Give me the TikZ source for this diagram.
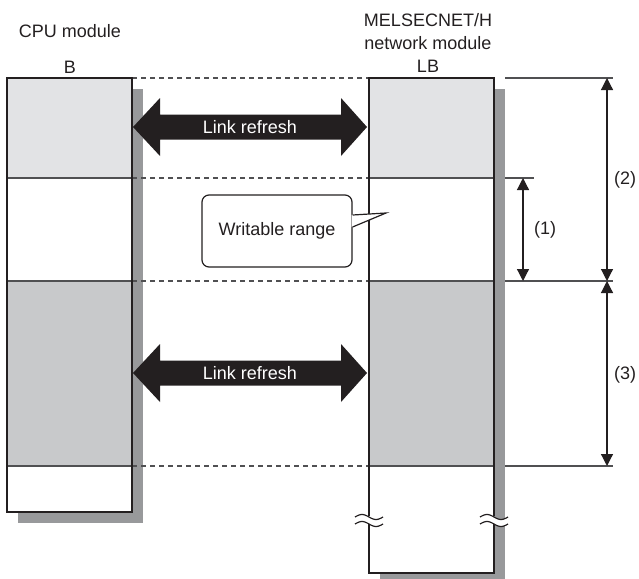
\documentclass[tikz,border=0pt]{standalone}
\usepackage{fontspec}
\setmainfont{Liberation Sans}
\usepackage{xcolor}
\usepackage{tikz}
\usetikzlibrary{arrows.meta}

\definecolor{memlight}{HTML}{E2E3E5}
\definecolor{memmid}{HTML}{C8C9CB}
\definecolor{memshadow}{HTML}{98999B}
\definecolor{memline}{HTML}{231F20}
\definecolor{guidegray}{HTML}{505052}

\begin{document}
\begin{tikzpicture}[x=1pt, y=-1pt,
	lbl/.style={inner sep=0pt, font=\fontsize{18}{23}\selectfont, text=memline},
	memframe/.style={draw=memline, line width=2.6pt},
	divider/.style={draw=guidegray, line width=1.4pt},
	guide/.style={draw=guidegray, line width=1.2pt, dash pattern=on 5pt off 4pt},
	extline/.style={draw=guidegray, line width=1.2pt},
	breakline/.style={draw=memline, line width=1.2pt},
	dimarrow/.style={draw=memline, line width=1.2pt, {Triangle[length=12pt,width=12pt]}-{Triangle[length=12pt,width=12pt]}},
	callbox/.style={lbl, draw=memline, line width=1.2pt, fill=white, rounded corners=7pt, minimum width=150pt, minimum height=72pt}
]

\useasboundingbox (0,0) rectangle (639,578);

% shadows
\fill[memshadow] (18,89) rectangle (143,523);
\fill[memshadow] (380,89) rectangle (505,585);

% memory areas
\foreach \x in {7,369}{
	\fill[white] (\x,78) rectangle (\x+125,512);
	\fill[memlight] (\x,78) rectangle (\x+125,178);
	\fill[memmid] (\x,281) rectangle (\x+125,466);
}
\fill[white] (369,512) rectangle (494,573);

\foreach \x in {7,369}{
	\foreach \y in {178,281,466}{
		\draw[divider] (\x,\y) -- (\x+125,\y);
	}
}

\foreach \y in {78,178,281,466}{
	\draw[guide] (132,\y) -- (369,\y);
}

% frames
\draw[memframe] (7,78) rectangle (132,512);
\draw[memframe] (369,516) -- (369,78) -- (494,78) -- (494,516);
\draw[memframe] (369,524) -- (369,573) -- (494,573) -- (494,524);

% break marks
\foreach \bx in {369,494}{
	\fill[white] plot[domain=-14:14, samples=25] ({\bx+\x}, {517+2.5*sin(\x/14*180)})
		-- plot[domain=14:-14, samples=25] ({\bx+\x}, {524+2.5*sin(\x/14*180)}) -- cycle;
	\draw[breakline] plot[domain=-14:14, samples=25] ({\bx+\x}, {517+2.5*sin(\x/14*180)});
	\draw[breakline] plot[domain=-14:14, samples=25] ({\bx+\x}, {524+2.5*sin(\x/14*180)});
}

% link refresh
\foreach \c/\n in {127/lra,373/lrb}{
	\fill[memline] (133,\c) -- (160,\c-29) -- (160,\c-12.5) -- (341,\c-12.5) -- (341,\c-29)
		-- (367,\c) -- (341,\c+29) -- (341,\c+12.5) -- (160,\c+12.5) -- (160,\c+29) -- cycle;
	\node[lbl, text=white] (\n) at (250,\c) {Link refresh};
}

% callout
\node[callbox] (wr) at (277,231) {Writable range};
\coordinate (wrtip) at (386,213);
\fill[white] ([xshift=-1pt,yshift=16pt]wr.east) -- (wrtip) -- ([xshift=-1pt,yshift=4pt]wr.east) -- cycle;
\draw[breakline] ([yshift=16pt]wr.east) -- (wrtip) -- ([yshift=4pt]wr.east);

% dimensions
\draw[extline] (505,78) -- (613,78);
\draw[extline] (505,178) -- (534,178);
\draw[extline] (505,281) -- (613,281);
\draw[extline] (505,466) -- (613,466);

\coordinate (d1a) at (523,178);
\coordinate (d1b) at (523,281);
\coordinate (d2a) at (607,78);
\coordinate (d2b) at (607,281);
\coordinate (d3a) at (607,281);
\coordinate (d3b) at (607,466);

\draw[dimarrow] (d1a) -- (d1b);
\draw[dimarrow] (d2a) -- (d2b);
\draw[dimarrow] (d3a) -- (d3b);

\node[lbl] (dim1) at (545,230) {(1)};
\node[lbl] (dim2) at (625,180) {(2)};
\node[lbl] (dim3) at (625,375) {(3)};

% titles
\node[lbl] (cpu) at (70,31) {CPU module};
\node[lbl] (bdev) at (70,67) {B};
\node[lbl, align=center] (net) at (428,31.5) {MELSECNET/H\\network module};
\node[lbl] (lbdev) at (428,66) {LB};

\end{tikzpicture}
\end{document}
